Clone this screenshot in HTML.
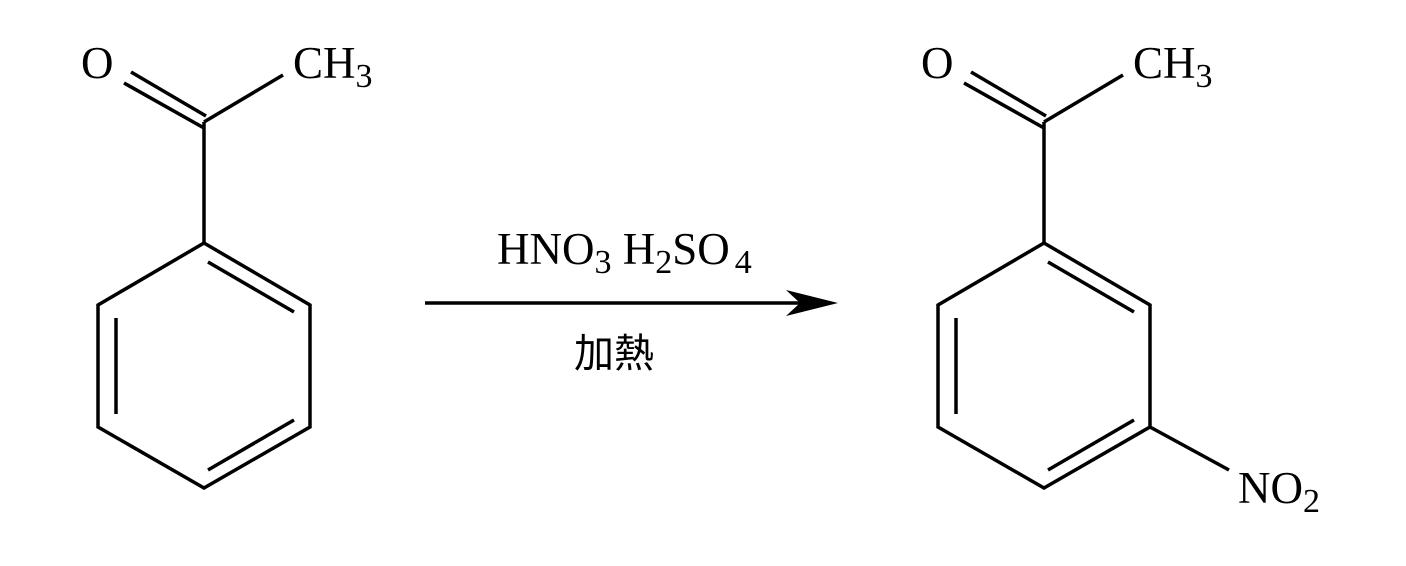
<!DOCTYPE html>
<html><head><meta charset="utf-8"><style>body{margin:0;background:#fff}svg{display:block}</style></head>
<body>
<svg width="1406" height="566" viewBox="0 0 1406 566" xmlns="http://www.w3.org/2000/svg">
<g stroke="#000" stroke-width="3.5" fill="none" stroke-linecap="butt">
<g>
<polygon points="204,243 310,305 310,427 204,488 98,427 98,305"/>
<line x1="208" y1="262" x2="294" y2="312"/>
<line x1="294" y1="420" x2="208" y2="470"/>
<line x1="116" y1="318" x2="116" y2="414"/>
<line x1="204" y1="243" x2="204" y2="122"/>
<line x1="204" y1="122" x2="283" y2="75"/>
<line x1="204" y1="128" x2="124" y2="83"/>
<line x1="206" y1="116" x2="131" y2="72"/>
</g>
<g transform="translate(840,0)">
<polygon points="204,243 310,305 310,427 204,488 98,427 98,305"/>
<line x1="208" y1="262" x2="294" y2="312"/>
<line x1="294" y1="420" x2="208" y2="470"/>
<line x1="116" y1="318" x2="116" y2="414"/>
<line x1="204" y1="243" x2="204" y2="122"/>
<line x1="204" y1="122" x2="283" y2="75"/>
<line x1="204" y1="128" x2="124" y2="83"/>
<line x1="206" y1="116" x2="131" y2="72"/>
<line x1="310" y1="427" x2="389" y2="470"/>
</g>
<line x1="425" y1="303" x2="805" y2="303"/>
</g>
<polygon points="838,303 786,290 800,303 786,316" fill="#000"/>
<g font-family="Liberation Serif, serif" font-size="45" fill="#000">
<text x="81" y="78">O</text>
<text x="293" y="78">CH<tspan font-size="34" dy="9">3</tspan></text>
<text x="921" y="78">O</text>
<text x="1133" y="78">CH<tspan font-size="34" dy="9">3</tspan></text>
<text x="1238" y="503">NO<tspan font-size="34" dy="9">2</tspan></text>
<text x="497" y="264">HNO<tspan font-size="34" dy="9">3</tspan><tspan dy="-9"> H</tspan><tspan font-size="34" dy="9">2</tspan><tspan dy="-9">SO</tspan><tspan font-size="34" dy="9" dx="5">4</tspan></text>
</g>
<text x="614" y="367" text-anchor="middle" font-family="'Liberation Sans','Noto Sans CJK TC',sans-serif" font-size="40" fill="#000">加熱</text>
</svg>
</body></html>
